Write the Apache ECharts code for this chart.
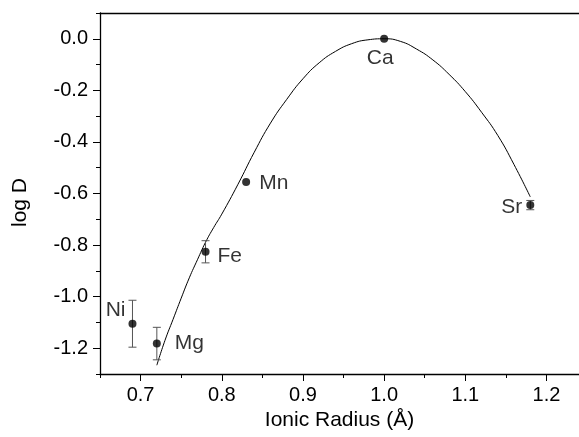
<!DOCTYPE html>
<html>
<head>
<meta charset="utf-8">
<script src="https://cdn.jsdelivr.net/npm/echarts@6/dist/echarts.min.js"></script>
<style>
  html, body { margin: 0; padding: 0; background: #fff; }
  #chart { width: 579px; height: 437px; }
</style>
</head>
<body>
<div id="chart"></div>
<script>
// measured points
const elements = ['Ni', 'Mg', 'Fe', 'Mn', 'Ca', 'Sr'];
const radius = [0.69, 0.72, 0.78, 0.83, 1.00, 1.18];
const logD = [-1.105, -1.182, -0.826, -0.555, 0.0, -0.645];
const logDErr = [0.091, 0.063, 0.043, 0, 0, 0.018];

// fitted curve
const fitRadius = [0.72, 0.73, 0.74, 0.75, 0.76, 0.77, 0.78, 0.79, 0.80, 0.82, 0.84, 0.86, 0.88, 0.90,
    0.92, 0.94, 0.96, 0.98, 1.00, 1.02, 1.04, 1.06, 1.08, 1.10, 1.12, 1.14, 1.16, 1.18];
const fitLogD = [-1.266, -1.170, -1.088, -1.006, -0.927, -0.857, -0.789, -0.732, -0.680, -0.564, -0.440,
    -0.327, -0.235, -0.155, -0.093, -0.049, -0.019, -0.004, 0.0, -0.010, -0.040, -0.082, -0.138, -0.205,
    -0.285, -0.375, -0.488, -0.613];

const xTicks = [0.7, 0.8, 0.9, 1.0, 1.1, 1.2];
const xMinorTicks = [0.65, 0.75, 0.85, 0.95, 1.05, 1.15];
const yTicks = [-1.2, -1.0, -0.8, -0.6, -0.4, -0.2, 0.0];
const yMinorTicks = [-1.3, -1.1, -0.9, -0.7, -0.5, -0.3, -0.1, 0.1];

const FONT = '"Liberation Sans", Arial, sans-serif';

// label placement per element
const labelPos = {
    Ni: { position: 'left', distance: 3, offset: [0, -14] },
    Mg: { position: 'right', distance: 14, offset: [0, 0] },
    Fe: { position: 'right', distance: 8, offset: [0, 4] },
    Mn: { position: 'right', distance: 9, offset: [0, 1] },
    Ca: { position: 'bottom', distance: 5, offset: [-4, 0] },
    Sr: { position: 'left', distance: 4, offset: [0, 2] }
};

const chart = echarts.init(document.getElementById('chart'));

const points = elements.map((el, i) => ({
    value: [radius[i], logD[i]],
    name: el,
    label: Object.assign({ show: true, formatter: el }, labelPos[el])
}));
const errData = elements.map((el, i) => [radius[i], logD[i], logDErr[i]]);
const fitData = fitRadius.map((r, i) => [r, fitLogD[i]]);

const xMin = 0.65, xMax = 1.24, yMin = -1.3, yMax = 0.1;

const axisLineStyle = { color: '#000', width: 1.3 };
const tickStyle = { color: '#000', width: 1 };

chart.setOption({
    animation: false,
    backgroundColor: '#fff',
    grid: { left: 100, right: 0, top: 13, bottom: 63 },
    xAxis: [{
        type: 'value', min: xMin, max: xMax, position: 'bottom',
        name: 'Ionic Radius (Å)', nameLocation: 'middle', nameGap: 27,
        nameTextStyle: { fontFamily: FONT, fontSize: 21, color: '#000' },
        axisLine: { show: true, onZero: false, lineStyle: axisLineStyle },
        axisTick: { show: true, length: 7, customValues: xTicks, lineStyle: tickStyle },
        axisLabel: { customValues: xTicks, margin: 11, fontFamily: FONT, fontSize: 20, color: '#000',
            formatter: v => v.toFixed(1) },
        splitLine: { show: false }
    }, {
        type: 'value', min: xMin, max: xMax, position: 'bottom',
        axisLine: { show: false, onZero: false },
        axisTick: { show: true, length: 4, customValues: xMinorTicks, lineStyle: tickStyle },
        axisLabel: { show: false },
        splitLine: { show: false }
    }, {
        type: 'value', min: xMin, max: xMax, position: 'top',
        axisLine: { show: true, onZero: false, lineStyle: axisLineStyle },
        axisTick: { show: false },
        axisLabel: { show: false },
        splitLine: { show: false }
    }],
    yAxis: [{
        type: 'value', min: yMin, max: yMax, position: 'left',
        name: 'log D', nameLocation: 'middle', nameGap: 69,
        nameTextStyle: { fontFamily: FONT, fontSize: 21, color: '#000', padding: [0, 18, 0, 0] },
        axisLine: { show: true, onZero: false, lineStyle: axisLineStyle },
        axisTick: { show: true, length: 7, customValues: yTicks, lineStyle: tickStyle },
        axisLabel: { customValues: yTicks, margin: 12, fontFamily: FONT, fontSize: 20, color: '#000',
            formatter: v => v.toFixed(1) },
        splitLine: { show: false }
    }, {
        type: 'value', min: yMin, max: yMax, position: 'left',
        axisLine: { show: false, onZero: false },
        axisTick: { show: true, length: 4, customValues: yMinorTicks, lineStyle: tickStyle },
        axisLabel: { show: false },
        splitLine: { show: false }
    }],
    series: [{
        type: 'line',
        data: fitData,
        smooth: true,
        symbol: 'none',
        lineStyle: { color: '#000', width: 1 },
        z: 2
    }, {
        type: 'custom',
        data: errData,
        z: 3,
        renderItem: (params, api) => {
            const x = api.value(0), y = api.value(1), e = api.value(2);
            if (!e) return null;
            const top = api.coord([x, y + e]);
            const bot = api.coord([x, y - e]);
            const style = { stroke: '#555', lineWidth: 1 };
            return {
                type: 'group',
                children: [
                    { type: 'line', shape: { x1: top[0], y1: top[1], x2: bot[0], y2: bot[1] }, style },
                    { type: 'line', shape: { x1: top[0] - 4, y1: top[1], x2: top[0] + 4, y2: top[1] }, style },
                    { type: 'line', shape: { x1: bot[0] - 4, y1: bot[1], x2: bot[0] + 4, y2: bot[1] }, style }
                ]
            };
        }
    }, {
        type: 'scatter',
        data: points,
        symbolSize: 8,
        itemStyle: { color: '#000' },
        label: { fontFamily: FONT, fontSize: 21, color: '#000' },
        z: 4
    }]
});

window.addEventListener('resize', () => chart.resize());
</script>
</body>
</html>
